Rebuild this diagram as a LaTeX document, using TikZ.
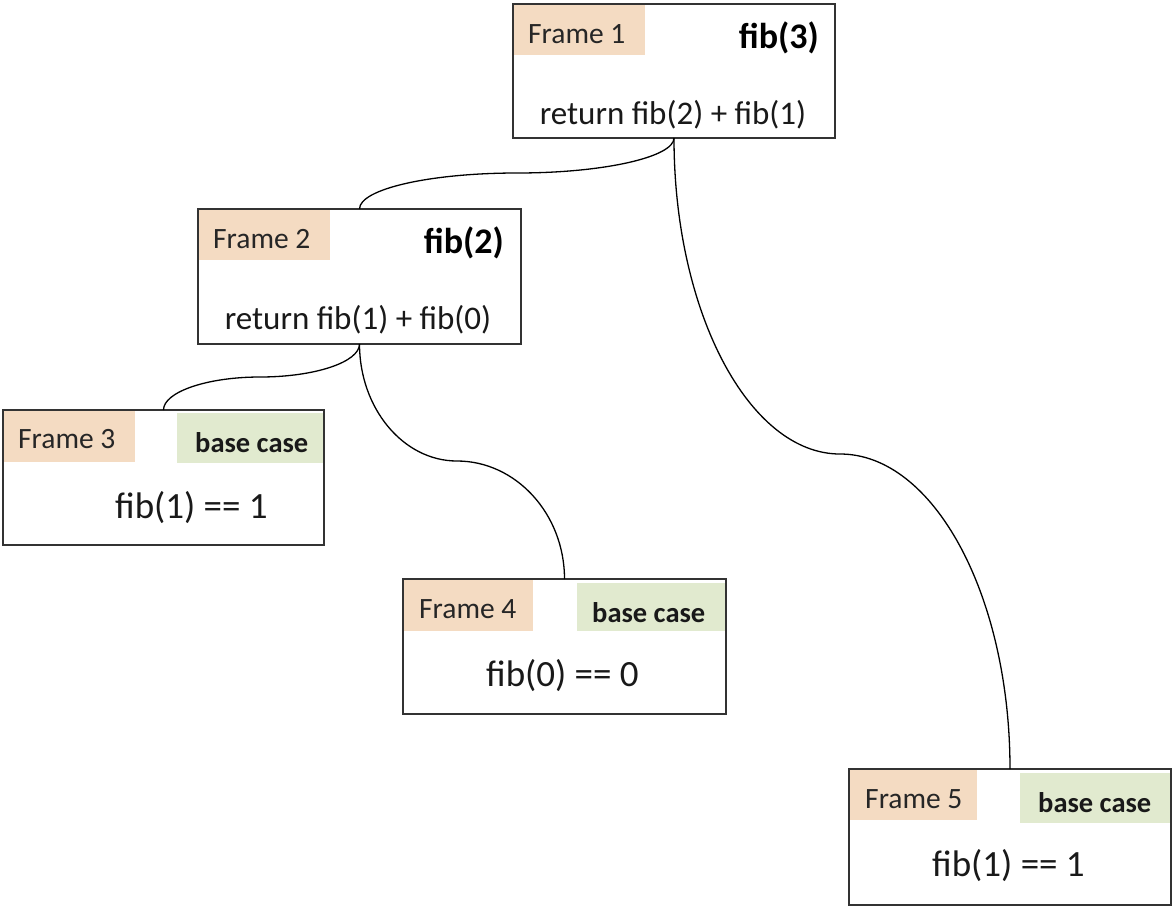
\documentclass[tikz,border=0pt]{standalone}
\usepackage{fontspec}
\setmainfont{Carlito}
\definecolor{peach}{HTML}{F4DBC2}
\definecolor{sage}{HTML}{E1EACF}
\definecolor{edge}{HTML}{333333}
\begin{document}
\begin{tikzpicture}[x=1pt,y=-1pt,
  framebox/.style={draw=edge, line width=1.6pt, rectangle, inner sep=0pt, outer sep=0pt, anchor=north west},
  frametag/.style={fill=peach, rectangle, inner sep=0pt, outer sep=0pt, anchor=north west},
  basetag/.style={fill=sage, rectangle, inner sep=0pt, outer sep=0pt, anchor=north west},
  framelabel/.style={font=\fontsize{29.5}{29.5}\selectfont, text=black!85, anchor=base west, inner sep=0pt},
  titletext/.style={font=\bfseries\fontsize{36}{36}\selectfont, anchor=base east, inner sep=0pt},
  calltext/.style={font=\fontsize{33}{33}\selectfont, text=black!90, anchor=base, inner sep=0pt},
  basecase/.style={font=\bfseries\fontsize{28.5}{28.5}\selectfont, text=black!90, anchor=base west, inner sep=0pt},
  valuetext/.style={font=\fontsize{37}{37}\selectfont, text=black!90, anchor=base west, inner sep=0pt},
  link/.style={draw=black, line width=1.3pt}
]
\useasboundingbox[fill=white] (0,0) rectangle (1175,908);

% Frame 1: fib(3)
\node[frametag, minimum width=132, minimum height=51] (t1) at (513,4) {};
\node[framebox, minimum width=322, minimum height=134] (f1) at (513,4) {};
\node[framelabel] (l1) at (528,43) {Frame 1};
\node[titletext] (n1) at (819,48) {fib(3)};
\node[calltext] (c1) at (673,124) {return fib(2) + fib(1)};

% Frame 2: fib(2)
\node[frametag, minimum width=132, minimum height=51] (t2) at (198,209) {};
\node[framebox, minimum width=323, minimum height=135] (f2) at (198,209) {};
\node[framelabel] (l2) at (213,248) {Frame 2};
\node[titletext] (n2) at (504,253) {fib(2)};
\node[calltext] (c2) at (358,329) {return fib(1) + fib(0)};

% Frame 3: base case fib(1)
\node[frametag, minimum width=132, minimum height=52] (t3) at (3,410) {};
\node[basetag, minimum width=147, minimum height=50] (g3) at (177,413) {};
\node[framebox, minimum width=321, minimum height=135] (f3) at (3,410) {};
\node[framelabel] (l3) at (18,448) {Frame 3};
\node[basecase] (b3) at (195,452) {base case};
\node[valuetext] (v3) at (115,518) {fib(1) == 1};

% Frame 4: base case fib(0)
\node[frametag, minimum width=130, minimum height=52] (t4) at (403,579) {};
\node[basetag, minimum width=149, minimum height=48] (g4) at (577,583) {};
\node[framebox, minimum width=323, minimum height=135] (f4) at (403,579) {};
\node[framelabel] (l4) at (419,618) {Frame 4};
\node[basecase] (b4) at (592,622) {base case};
\node[valuetext] (v4) at (486,686) {fib(0) == 0};

% Frame 5: base case fib(1)
\node[frametag, minimum width=128, minimum height=50] (t5) at (849,770) {};
\node[basetag, minimum width=150, minimum height=50] (g5) at (1020,773) {};
\node[framebox, minimum width=322, minimum height=136] (f5) at (849,769) {};
\node[framelabel] (l5) at (865,808) {Frame 5};
\node[basecase] (b5) at (1038,812) {base case};
\node[valuetext] (v5) at (932,876) {fib(1) == 1};

% call-tree connectors: vertical ends, level turning point
\coordinate (m12) at (517,173);
\coordinate (m15) at (840,454);
\coordinate (m23) at (260,377);
\coordinate (m24) at (457,461);
\draw[link] (f1.south) .. controls +(0,19) and +(87,0) .. (m12)
                       .. controls +(-87,0) and +(0,-20) .. (f2.north);
\draw[link] (f1.south) .. controls +(0,174) and +(-91,0) .. (m15)
                       .. controls +(94,0) and +(0,-173) .. (f5.north);
\draw[link] (f2.south) .. controls +(0,18) and +(55,0) .. (m23)
                       .. controls +(-53,0) and +(0,-18) .. (f3.north);
\draw[link] (f2.south) .. controls +(0,64) and +(-54,0) .. (m24)
                       .. controls +(59,0) and +(0,-65) .. (f4.north);
\end{tikzpicture}
\end{document}
